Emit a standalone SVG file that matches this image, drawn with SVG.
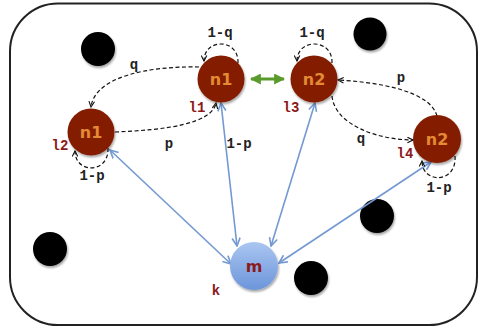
<svg xmlns="http://www.w3.org/2000/svg" width="480" height="329" viewBox="0 0 480 329">
<defs>
<style>
.node{fill:#841e00}
.nt{font-family:"DejaVu Sans",sans-serif;font-weight:bold;font-size:16px;fill:#e38a35;text-anchor:middle}
.lab{font-family:"Liberation Mono",monospace;font-weight:bold;font-size:14px;fill:#222;text-anchor:middle}
.loc{font-family:"Liberation Mono",monospace;font-weight:bold;font-size:14px;fill:#8b1a1a;text-anchor:middle}
.dot{fill:#000}
.dash{fill:none;stroke:#111;stroke-width:1.2;stroke-dasharray:4 2.5}
.blue{fill:none;stroke:#7399d2;stroke-width:1.6}
.green{fill:none;stroke:#5b9b2c;stroke-width:3}
</style>
<linearGradient id="mg" x1="0" y1="0" x2="0" y2="1">
<stop offset="0" stop-color="#aac6f2"/>
<stop offset="1" stop-color="#6c95da"/>
</linearGradient>
<filter id="sh" x="-30%" y="-30%" width="160%" height="160%">
<feGaussianBlur in="SourceAlpha" stdDeviation="1.2"/>
<feOffset dx="1" dy="1.5" result="b"/>
<feComponentTransfer><feFuncA type="linear" slope="0.35"/></feComponentTransfer>
<feMerge><feMergeNode/><feMergeNode in="SourceGraphic"/></feMerge>
</filter>
<marker id="da" viewBox="0 0 10 10" refX="9" refY="5" markerWidth="7" markerHeight="7" markerUnits="userSpaceOnUse" orient="auto">
<polyline points="1,1 9,5 1,9" fill="none" stroke="#111" stroke-width="1.6"/>
</marker>
<marker id="ba" viewBox="0 0 10 10" refX="9" refY="5" markerWidth="10" markerHeight="10" markerUnits="userSpaceOnUse" orient="auto-start-reverse">
<polyline points="1,1 9,5 1,9" fill="none" stroke="#7399d2" stroke-width="1.6"/>
</marker>
<marker id="ga" viewBox="0 0 10 10" refX="9" refY="5" markerWidth="11" markerHeight="11" markerUnits="userSpaceOnUse" orient="auto-start-reverse">
<polygon points="0,0 10,5 0,10" fill="#5b9b2c"/>
</marker>
</defs>
<rect x="10" y="3.5" width="467" height="321.5" rx="48" ry="48" fill="#fff" stroke="#222" stroke-width="2"/>
<g id="obstacles">
<circle class="dot" cx="98" cy="49" r="17" filter="url(#sh)"/>
<circle class="dot" cx="370" cy="34" r="16.5" filter="url(#sh)"/>
<circle class="dot" cx="50" cy="249" r="17" filter="url(#sh)"/>
<circle class="dot" cx="377" cy="216" r="17" filter="url(#sh)"/>
<circle class="dot" cx="311" cy="278" r="17" filter="url(#sh)"/>
</g>
<g id="connectors">
<line class="blue" x1="110" y1="150" x2="231" y2="264" marker-start="url(#ba)" marker-end="url(#ba)"/>
<line class="blue" x1="221" y1="103" x2="237" y2="246" marker-start="url(#ba)" marker-end="url(#ba)"/>
<line class="blue" x1="315" y1="103" x2="271" y2="246" marker-start="url(#ba)" marker-end="url(#ba)"/>
<line class="blue" x1="431" y1="162" x2="279" y2="263" marker-start="url(#ba)" marker-end="url(#ba)"/>
<line class="green" x1="251" y1="79" x2="284" y2="79" marker-start="url(#ga)" marker-end="url(#ga)"/>
<path class="dash" d="M199,67 C150,66 95,76 91,107" marker-end="url(#da)"/>
<path class="dash" d="M115,132 C165,130 212,124 216,103" marker-end="url(#da)"/>
<path class="dash" d="M238,63 C239,38 204,38 204,61" marker-end="url(#da)"/>
<path class="dash" d="M332,63 C333,38 297,38 297,61" marker-end="url(#da)"/>
<path class="dash" d="M437,116 C430,90 375,82 338,80" marker-end="url(#da)"/>
<path class="dash" d="M332,96 C335,126 380,140 413,140" marker-end="url(#da)"/>
<path class="dash" d="M108,148 C109,174 75,174 75,151" marker-end="url(#da)"/>
<path class="dash" d="M455,156 C457,184 422,184 422,161" marker-end="url(#da)"/>
</g>
<g id="l1">
<circle class="node" cx="221" cy="79" r="23.5" filter="url(#sh)"/>
<text class="nt" x="221" y="85">n1</text>
<text class="loc" x="197" y="112">l1</text>
</g>
<g id="l3">
<circle class="node" cx="314" cy="79" r="23.5" filter="url(#sh)"/>
<text class="nt" x="314" y="85">n2</text>
<text class="loc" x="291" y="112">l3</text>
</g>
<g id="l2">
<circle class="node" cx="91" cy="132" r="23.5" filter="url(#sh)"/>
<text class="nt" x="91" y="138">n1</text>
<text class="loc" x="60" y="150">l2</text>
</g>
<g id="l4">
<circle class="node" cx="437" cy="139" r="24" filter="url(#sh)"/>
<text class="nt" x="437" y="145">n2</text>
<text class="loc" x="405" y="158">l4</text>
</g>
<g id="m">
<circle cx="254" cy="266" r="24" fill="url(#mg)" filter="url(#sh)"/>
<text class="nt" x="254" y="272" style="fill:#8b1a1a">m</text>
<text class="loc" x="216" y="295">k</text>
</g>
<g id="labels">
<text class="lab" x="220" y="37">1-q</text>
<text class="lab" x="312" y="37">1-q</text>
<text class="lab" x="134" y="69">q</text>
<text class="lab" x="169" y="148">p</text>
<text class="lab" x="239" y="148">1-p</text>
<text class="lab" x="401" y="82">p</text>
<text class="lab" x="361" y="143">q</text>
<text class="lab" x="92" y="180">1-p</text>
<text class="lab" x="439" y="192">1-p</text>
</g>
</svg>
